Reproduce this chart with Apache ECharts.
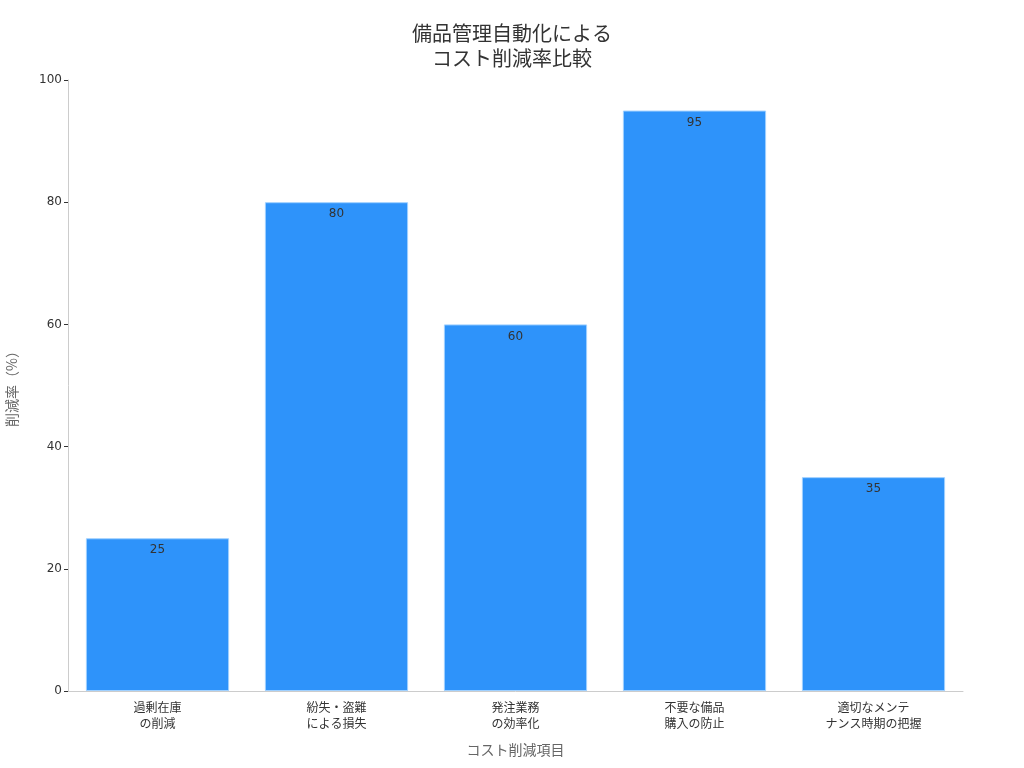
<!DOCTYPE html>
<html><head><meta charset="utf-8">
<script src="https://cdn.jsdelivr.net/npm/echarts@6/dist/echarts.min.js"></script>
<style>html,body{margin:0;padding:0;background:#fff}#c{width:1024px;height:768px}</style>
</head><body><div id="c"></div>
<script>
const titleText = '備品管理自動化による\nコスト削減率比較';
const categories = ['過剰在庫\nの削減', '紛失・盗難\nによる損失', '発注業務\nの効率化', '不要な備品\n購入の防止', '適切なメンテ\nナンス時期の把握'];
const values = [25, 80, 60, 95, 35];
const xName = 'コスト削減項目';
const yName = '削減率（%）';
const font = '"Noto Sans CJK JP", "DejaVu Sans", sans-serif';
const chart = echarts.init(document.getElementById('c'));
chart.setOption({
  backgroundColor: '#fff',
  textStyle: { fontFamily: font },
  title: { text: titleText, left: 'center', top: 16, textStyle: { fontSize: 20, fontWeight: 'normal', color: '#333', lineHeight: 25, fontFamily: font } },
  grid: { left: 68, right: 61, top: 80, bottom: 77, containLabel: false, outerBoundsMode: 'none' },
  xAxis: {
    type: 'category', data: categories,
    name: xName, nameLocation: 'middle', nameGap: 52,
    nameTextStyle: { fontSize: 14, color: '#666' },
    axisLine: { lineStyle: { color: '#ccc' } },
    axisTick: { alignWithLabel: true, length: 4, lineStyle: { color: '#333' } },
    axisLabel: { fontSize: 12, color: '#333', lineHeight: 16, margin: 8 }
  },
  yAxis: {
    type: 'value', min: 0, max: 100, interval: 20,
    name: yName, nameLocation: 'middle', nameGap: 49,
    nameTextStyle: { fontSize: 14, color: '#666' },
    axisLine: { show: true, lineStyle: { color: '#ccc' } },
    axisTick: { show: true, length: 4, lineStyle: { color: '#333' } },
    splitLine: { show: false },
    axisLabel: { fontSize: 12, color: '#333', margin: 6, fontFamily: '"DejaVu Sans", sans-serif' }
  },
  series: [{
    type: 'bar', data: values, barCategoryGap: '20%',
    itemStyle: { color: '#2E93FA', borderColor: '#9fd0ff', borderWidth: 1 },
    label: { show: true, position: 'insideTop', distance: 6, color: '#333', fontSize: 12, fontFamily: '"DejaVu Sans", sans-serif' }
  }]
});
</script></body></html>
